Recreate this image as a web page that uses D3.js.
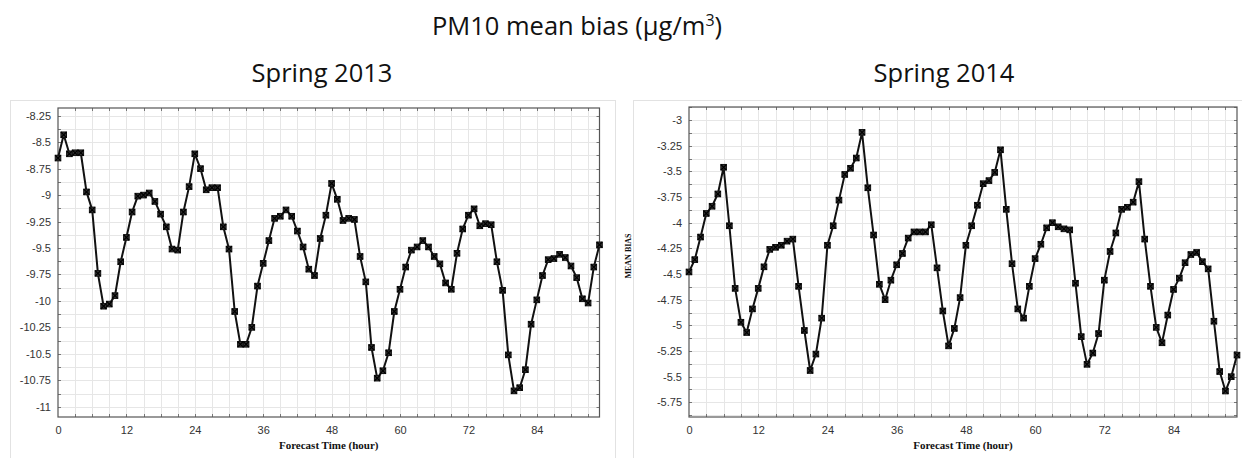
<!DOCTYPE html>
<html>
<head>
<meta charset="utf-8">
<script src="https://cdn.jsdelivr.net/npm/d3@7"></script>
<style>
  html, body { margin: 0; padding: 0; background: #fff; }
  svg { display: block; }
</style>
</head>
<body>
<svg id="chart" width="1242" height="458"></svg>
<script>
// Forecast hour for every point (0..95)
const hours = d3.range(0, 96);

// PM10 mean bias, spring 2013
const bias2013 = [
  -8.65, -8.43, -8.61, -8.60, -8.60, -8.97, -9.14, -9.74, -10.05, -10.03,
  -9.95, -9.63, -9.40, -9.16, -9.01, -9.00, -8.98, -9.06, -9.18, -9.30,
  -9.51, -9.52, -9.16, -8.92, -8.61, -8.75, -8.95, -8.93, -8.93, -9.30,
  -9.51, -10.10, -10.41, -10.41, -10.25, -9.86, -9.645, -9.43, -9.22, -9.20,
  -9.14, -9.20, -9.34, -9.49, -9.70, -9.76, -9.41, -9.19, -8.89, -9.04,
  -9.24, -9.22, -9.23, -9.58, -9.82, -10.44, -10.73, -10.66, -10.49, -10.10,
  -9.89, -9.68, -9.52, -9.49, -9.43, -9.49, -9.58, -9.65, -9.83, -9.89,
  -9.55, -9.32, -9.19, -9.13, -9.29, -9.27, -9.28, -9.63, -9.90, -10.51,
  -10.85, -10.82, -10.65, -10.22, -9.99, -9.76, -9.61, -9.60, -9.56, -9.59,
  -9.67, -9.78, -9.98, -10.02, -9.68, -9.47
];

// PM10 mean bias, spring 2014
const bias2014 = [
  -4.48, -4.36, -4.14, -3.91, -3.84, -3.72, -3.46, -4.03, -4.64, -4.97,
  -5.07, -4.84, -4.64, -4.43, -4.26, -4.24, -4.22, -4.18, -4.16, -4.62,
  -5.05, -5.44, -5.28, -4.93, -4.22, -4.03, -3.78, -3.53, -3.47, -3.37,
  -3.12, -3.66, -4.12, -4.60, -4.75, -4.56, -4.41, -4.30, -4.15, -4.09,
  -4.09, -4.09, -4.02, -4.44, -4.86, -5.20, -5.03, -4.73, -4.22, -4.03,
  -3.83, -3.62, -3.59, -3.51, -3.29, -3.87, -4.40, -4.84, -4.93, -4.62,
  -4.35, -4.21, -4.05, -4.00, -4.04, -4.06, -4.07, -4.59, -5.11, -5.38,
  -5.27, -5.08, -4.56, -4.28, -4.10, -3.87, -3.85, -3.80, -3.60, -4.16,
  -4.62, -5.02, -5.17, -4.90, -4.65, -4.54, -4.39, -4.31, -4.29, -4.38,
  -4.45, -4.96, -5.45, -5.64, -5.50, -5.29
];

// Axis tick labels
const xTicks = [0, 12, 24, 36, 48, 60, 72, 84];
const yTicks2013 = [-8.25, -8.5, -8.75, -9, -9.25, -9.5, -9.75, -10, -10.25, -10.5, -10.75, -11];
const yTicks2014 = [-3, -3.25, -3.5, -3.75, -4, -4.25, -4.5, -4.75, -5, -5.25, -5.5, -5.75];

const svg = d3.select("#chart");
const titleFont = "'Open Sans', Lato, sans-serif";

// Figure title
svg.append("text")
  .attr("x", 577).attr("y", 35)
  .attr("text-anchor", "middle")
  .attr("font-family", titleFont)
  .attr("font-size", 25.5)
  .attr("fill", "#111")
  .call(t => {
    t.append("tspan").text("PM10 mean bias (");
    t.append("tspan").text("\u03bc");
    t.append("tspan").text("g/m");
    t.append("tspan").attr("dy", -9).attr("font-size", 16).text("3");
    t.append("tspan").attr("dy", 9).text(")");
  });

const panels = [
  {
    title: "Spring 2013", titleX: 322, values: bias2013, yTicks: yTicks2013,
    frame: [10, 100, 605, 380],
    xRange: [58, 599.5], yDomain: [-11.097, -8.177], yRange: [417, 108],
    yLabel: null
  },
  {
    title: "Spring 2014", titleX: 944, values: bias2014, yTicks: yTicks2014,
    frame: [633, 100, 620, 380],
    xRange: [689, 1237], yDomain: [-5.893, -2.873], yRange: [417, 107],
    yLabel: "MEAN BIAS"
  }
];

panels.forEach(p => {
  const g = svg.append("g");

  // light frame around each panel image
  g.append("rect")
    .attr("x", p.frame[0] + 0.5).attr("y", p.frame[1] + 0.5)
    .attr("width", p.frame[2]).attr("height", p.frame[3])
    .attr("fill", "none").attr("stroke", "#e2e2e2");

  const x = d3.scaleLinear().domain([0, 95]).range(p.xRange);
  const y = d3.scaleLinear().domain(p.yDomain).range(p.yRange);
  const [x0, x1] = p.xRange;
  const [yb, yt] = p.yRange;

  // panel title
  g.append("text")
    .attr("x", p.titleX)
    .attr("y", 82)
    .attr("text-anchor", "middle")
    .attr("font-family", titleFont)
    .attr("font-size", 25.5)
    .attr("fill", "#111")
    .text(p.title);

  // grid: every 3 hours and every 0.125 units
  const vGrid = d3.range(3, 95, 3);
  const hGrid = d3.range(Math.ceil(p.yDomain[0] / 0.125) * 0.125, p.yDomain[1], 0.125);

  g.append("g").selectAll("line").data(vGrid).join("line")
    .attr("x1", d => Math.round(x(d)) + 0.5).attr("x2", d => Math.round(x(d)) + 0.5)
    .attr("y1", yt).attr("y2", yb)
    .attr("stroke", "#e6e6e6").attr("stroke-width", 1);

  g.append("g").selectAll("line").data(hGrid).join("line")
    .attr("x1", x0).attr("x2", x1)
    .attr("y1", d => Math.round(y(d)) + 0.5).attr("y2", d => Math.round(y(d)) + 0.5)
    .attr("stroke", "#e6e6e6").attr("stroke-width", 1);

  // small inward ticks on all four sides
  const tk = g.append("g").attr("stroke", "#777").attr("stroke-width", 1);
  vGrid.forEach(d => {
    const xx = Math.round(x(d)) + 0.5;
    tk.append("line").attr("x1", xx).attr("x2", xx).attr("y1", yb).attr("y2", yb - 3);
    tk.append("line").attr("x1", xx).attr("x2", xx).attr("y1", yt).attr("y2", yt + 3);
  });
  hGrid.forEach(d => {
    const yy = Math.round(y(d)) + 0.5;
    tk.append("line").attr("x1", x0).attr("x2", x0 + 3).attr("y1", yy).attr("y2", yy);
    tk.append("line").attr("x1", x1).attr("x2", x1 - 3).attr("y1", yy).attr("y2", yy);
  });

  // plot box
  g.append("rect")
    .attr("x", x0).attr("y", yt)
    .attr("width", x1 - x0).attr("height", yb - yt)
    .attr("fill", "none").attr("stroke", "#555").attr("stroke-width", 1.2);

  // axes (labels only; box drawn above)
  const xAxis = d3.axisBottom(x).tickValues(xTicks).tickSize(0).tickPadding(9);
  const yAxis = d3.axisLeft(y).tickValues(p.yTicks).tickSize(0).tickPadding(7)
    .tickFormat(d => String(d));

  g.append("g").attr("transform", `translate(0,${yb})`).call(xAxis)
    .call(a => a.select(".domain").remove())
    .call(a => a.selectAll("text")
      .attr("font-family", "'Liberation Sans', Arial, sans-serif")
      .attr("font-size", 11).attr("fill", "#333"));

  g.append("g").attr("transform", `translate(${x0},0)`).call(yAxis)
    .call(a => a.select(".domain").remove())
    .call(a => a.selectAll("text")
      .attr("font-family", "'Liberation Sans', Arial, sans-serif")
      .attr("font-size", 11).attr("fill", "#333"));

  // x-axis title
  g.append("text")
    .attr("x", (x0 + x1) / 2).attr("y", 449)
    .attr("text-anchor", "middle")
    .attr("font-family", "'Liberation Serif', 'Times New Roman', serif")
    .attr("font-weight", "bold").attr("font-size", 11)
    .attr("fill", "#111")
    .text("Forecast Time (hour)");

  if (p.yLabel) {
    g.append("text")
      .attr("transform", `translate(${p.frame[0] - 2},256) rotate(-90)`)
      .attr("text-anchor", "middle")
      .attr("font-family", "'Liberation Serif', 'Times New Roman', serif")
      .attr("font-weight", "bold").attr("font-size", 8)
      .attr("fill", "#111")
      .text(p.yLabel);
  }

  // series line
  const line = d3.line().x((d, i) => x(hours[i])).y(d => y(d));
  g.append("path")
    .datum(p.values)
    .attr("d", line)
    .attr("fill", "none").attr("stroke", "#111").attr("stroke-width", 2)
    .attr("stroke-linejoin", "round");

  // square markers with a cross
  const s = 2.8;
  const mk = g.append("g").selectAll("g").data(p.values).join("g")
    .attr("transform", (d, i) => `translate(${x(hours[i])},${y(d)})`);
  mk.append("rect")
    .attr("x", -s).attr("y", -s).attr("width", 2 * s).attr("height", 2 * s)
    .attr("fill", "#333").attr("stroke", "#111").attr("stroke-width", 1);
  mk.append("path")
    .attr("d", `M${-s},${-s}L${s},${s}M${s},${-s}L${-s},${s}`)
    .attr("stroke", "#000").attr("stroke-width", 1.2);
});
</script>
</body>
</html>
